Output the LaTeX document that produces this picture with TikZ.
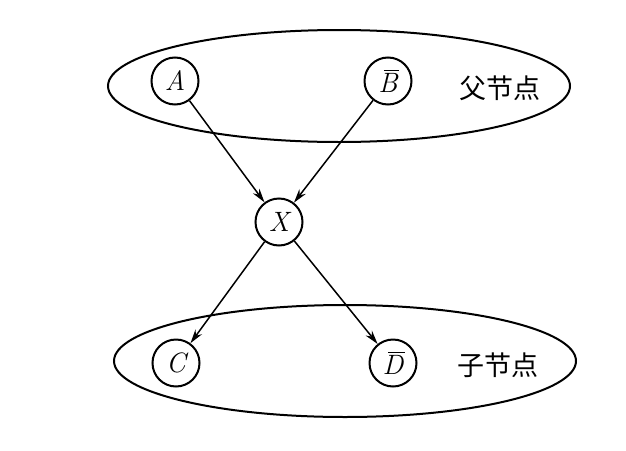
\documentclass[tikz,border=0pt]{standalone}
\usepackage{fontspec}
\newfontfamily\cjk{Noto Sans CJK SC}
\usetikzlibrary{arrows.meta, positioning, shapes.geometric}
\newcommand{\negvar}[1]{\setbox0\hbox{#1}\rlap{\hspace{0.2em}\rule[\dimexpr\ht0+0.08em\relax]{0.8\wd0}{0.05em}}#1}

\begin{document}
\begin{tikzpicture}[
        x=1pt, y=-1pt,
        var/.style={
            circle,
            draw=black,
            line width=2pt,
            inner sep=0pt,
            minimum size=47pt,
            font=\fontsize{28}{28}\selectfont\itshape
        },
        group/.style={
            ellipse,
            draw=black,
            line width=2pt,
            inner sep=0pt,
            minimum width=462pt,
            minimum height=112pt
        },
        grouplabel/.style={
            font=\cjk\fontsize{27}{27}\selectfont
        },
        arrow/.style={
            -{Stealth[length=14pt, width=8pt]},
            line width=1.5pt
        }
    ]
        \useasboundingbox (0,0) rectangle (626,450);

        % parent layer
        \node (parents) [group] at (339,86) {};
        \node (a) [var] at (175,81) {A};
        \node (bbar) [var] at (388,81) {\negvar{B}};
        \node (plabel) [grouplabel] at (500,88) {父节点};

        % middle
        \node (x) [var] at (279,222) {X};

        % child layer
        \node (children) [group] at (345,361) {};
        \node (c) [var] at (176,363) {C};
        \node (dbar) [var] at (393,363) {\negvar{D}};
        \node (clabel) [grouplabel] at (498,365) {子节点};

        \draw [arrow] (a) -- (x);
        \draw [arrow] (bbar) -- (x);
        \draw [arrow] (x) -- (c);
        \draw [arrow] (x) -- (dbar);
    \end{tikzpicture}
\end{document}
